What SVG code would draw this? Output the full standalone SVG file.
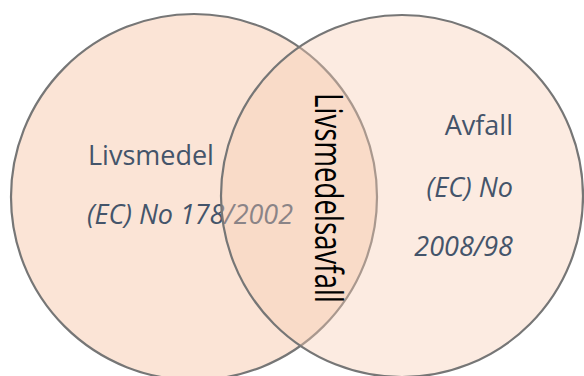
<svg xmlns="http://www.w3.org/2000/svg" width="584" height="376" viewBox="0 0 584 376">
  <style>
    .ring { stroke: #767676; stroke-width: 2.2; }
    .lbl { font-family: "Open Sans", "Liberation Sans", sans-serif; fill: #44546A; font-size: 27px; }
    .reg { font-style: italic; }
    .mid { font-family: "Open Sans", "Liberation Sans", sans-serif; fill: #000000; font-size: 38px; }
  </style>
  <rect width="584" height="376" fill="#FFFFFF"/>
  <g id="livsmedel">
    <circle class="ring" cx="194" cy="197" r="183" fill="#FBE4D6"/>
    <text class="lbl" x="88" y="165">Livsmedel</text>
    <text class="lbl reg" x="87" y="224" textLength="206">(EC) No 178/2002</text>
  </g>
  <g id="avfall">
    <circle class="ring" cx="402" cy="196" r="181" fill="#F8CDB4" fill-opacity="0.4"/>
    <text class="lbl" x="513" y="135" text-anchor="end">Avfall</text>
    <text class="lbl reg" x="513" y="197" text-anchor="end">(EC) No</text>
    <text class="lbl reg" x="513" y="256" text-anchor="end">2008/98</text>
  </g>
  <g id="livsmedelsavfall">
    <text class="mid" transform="translate(315,93) rotate(90)" x="0" y="0" textLength="210" lengthAdjust="spacingAndGlyphs">Livsmedelsavfall</text>
  </g>
</svg>
